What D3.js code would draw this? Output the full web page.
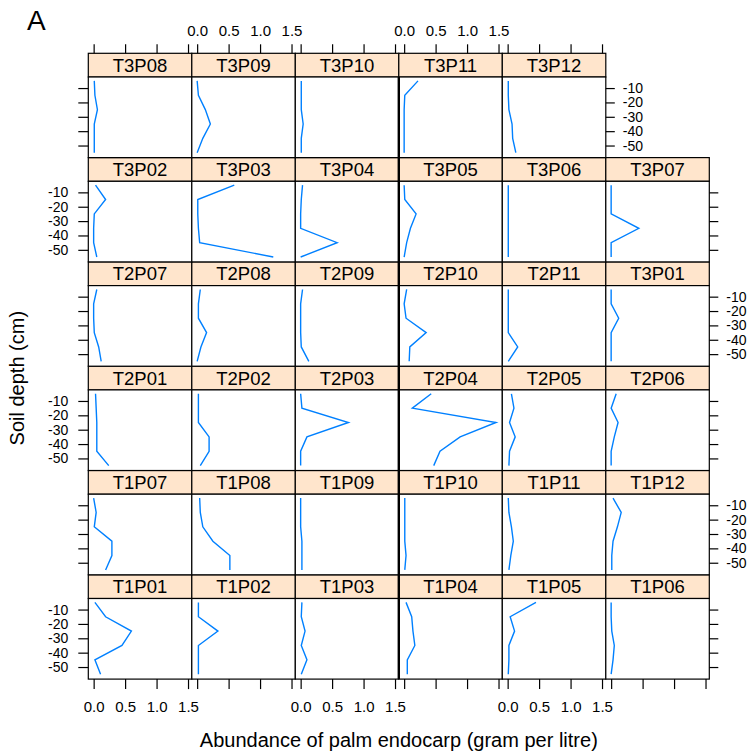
<!DOCTYPE html>
<html>
<head>
<meta charset="utf-8">
<script src="https://cdn.jsdelivr.net/npm/d3@7"></script>
<style>
  html, body { margin: 0; padding: 0; background: #fff; }
  svg { display: block; font-family: "Liberation Sans", Arial, sans-serif; }
</style>
</head>
<body>
<svg id="chart" width="755" height="751"></svg>
<script>
// Soil depth of each sample (cm, negative downwards)
const depths = [-5, -15, -25, -35, -45, -55];

// Plot names in lattice panel order (bottom-left first, left to right, upwards)
const plots = [
  "T1P01", "T1P02", "T1P03", "T1P04", "T1P05", "T1P06",
  "T1P07", "T1P08", "T1P09", "T1P10", "T1P11", "T1P12",
  "T2P01", "T2P02", "T2P03", "T2P04", "T2P05", "T2P06",
  "T2P07", "T2P08", "T2P09", "T2P10", "T2P11", "T3P01",
  "T3P02", "T3P03", "T3P04", "T3P05", "T3P06", "T3P07",
  "T3P08", "T3P09", "T3P10", "T3P11", "T3P12"
];

// Palm endocarp abundance (g/L) per plot, one value per depth
const transect1 = [
  [0.02, 0.19, 0.60, 0.45, 0.02, 0.11], // T1P01
  [0.02, 0.02, 0.33, 0.02, 0.02, 0.02], // T1P02
  [0.02, 0.01, 0.07, 0.01, 0.10, 0.01], // T1P03
  [0.03, 0.12, 0.14, 0.17, 0.05, 0.05], // T1P04
  [0.45, 0.04, 0.11, 0.02, 0.02, 0.01], // T1P05
  [0.00, 0.00, 0.01, 0.05, 0.03, 0.00], // T1P06
  [0.00, 0.04, 0.01, 0.29, 0.29, 0.19], // T1P07
  [0.04, 0.05, 0.09, 0.25, 0.52, 0.52], // T1P08
  [0.00, 0.00, 0.00, 0.02, 0.02, 0.02], // T1P09
  [0.01, 0.01, 0.01, 0.01, 0.03, 0.01], // T1P10
  [0.01, 0.02, 0.06, 0.09, 0.05, 0.02], // T1P11
  [0.03, 0.16, 0.10, 0.03, 0.01, 0.01]  // T1P12
];
const transect2 = [
  [0.03, 0.04, 0.05, 0.05, 0.05, 0.24], // T2P01
  [0.02, 0.02, 0.02, 0.19, 0.19, 0.05], // T2P02
  [0.00, 0.02, 0.76, 0.10, 0.00, 0.00], // T2P03
  [0.43, 0.13, 1.46, 0.89, 0.57, 0.47], // T2P04
  [0.06, 0.10, 0.03, 0.12, 0.03, 0.02], // T2P05
  [0.08, 0.00, 0.11, 0.05, 0.00, 0.00], // T2P06
  [0.05, 0.00, 0.00, 0.01, 0.08, 0.12], // T2P07
  [0.05, 0.02, 0.02, 0.15, 0.06, 0.00], // T2P08
  [0.03, 0.00, 0.00, 0.00, 0.01, 0.13], // T2P09
  [0.04, 0.00, 0.03, 0.35, 0.09, 0.08], // T2P10
  [0.01, 0.01, 0.01, 0.01, 0.16, 0.01]  // T2P11
];
const transect3 = [
  [0.00, 0.00, 0.12, 0.00, 0.00, 0.00], // T3P01
  [0.03, 0.19, 0.01, 0.00, 0.00, 0.05], // T3P02
  [0.59, 0.01, 0.01, 0.02, 0.04, 1.21], // T3P03
  [0.03, 0.01, 0.00, 0.00, 0.58, 0.00], // T3P04
  [0.00, 0.01, 0.19, 0.10, 0.04, 0.00], // T3P05
  [0.01, 0.01, 0.01, 0.01, 0.01, 0.01], // T3P06
  [0.00, 0.00, 0.00, 0.44, 0.00, 0.00], // T3P07
  [0.01, 0.02, 0.06, 0.01, 0.01, 0.01], // T3P08
  [0.00, 0.02, 0.13, 0.21, 0.09, 0.00], // T3P09
  [0.01, 0.01, 0.01, 0.04, 0.01, 0.01], // T3P10
  [0.22, 0.01, 0.00, 0.00, 0.00, 0.00], // T3P11
  [0.01, 0.01, 0.02, 0.07, 0.08, 0.13]  // T3P12
];

const xTicks = [0, 0.5, 1.0, 1.5];
const yTicks = [-10, -20, -30, -40, -50];

const panelLabel = "A";
const xTitle = "Abundance of palm endocarp (gram per litre)";
const yTitle = "Soil depth (cm)";

// ---- layout ----
const nCols = 6, nRows = 6;
const gridLeft = 88.3, gridTop = 53.3;
const colW = 103.5, rowH = 104.3, stripH = 23.7;
const panelH = rowH - stripH;

const lineColor = "#0080ff";
const stripFill = "#ffe5cc";

const svg = d3.select("#chart");

const x = d3.scaleLinear().domain([-0.085, 1.56]).range([0, colW]);
const y = d3.scaleLinear().domain([-2.3, -58.4]).range([0, panelH]);

const values = transect1.concat(transect2, transect3);
const panels = plots.map((name, i) => ({
  name,
  col: i % nCols,
  row: nRows - 1 - Math.floor(i / nCols),   // row 0 is the top row
  values: values[i]
}));

const line = d3.line()
  .x(d => x(d.v))
  .y(d => y(d.d));

const fmtX = d3.format(".1f");
const fmtY = d => String(d);   // plain hyphen-minus, as R prints it

const g = svg.selectAll("g.panel")
  .data(panels)
  .join("g")
  .attr("class", "panel")
  .attr("transform", d => `translate(${gridLeft + d.col * colW},${gridTop + d.row * rowH})`);

// strip
g.append("rect")
  .attr("x", 0).attr("y", 0)
  .attr("width", colW).attr("height", stripH)
  .attr("fill", stripFill)
  .attr("stroke", "#000").attr("stroke-width", 1.2);

g.append("text")
  .attr("x", colW / 2).attr("y", stripH / 2 + 6.5)
  .attr("text-anchor", "middle")
  .attr("font-size", 18.5)
  .attr("fill", "#000")
  .text(d => d.name);

// panel area
const body = g.append("g").attr("transform", `translate(0,${stripH})`);
body.append("rect")
  .attr("width", colW).attr("height", panelH)
  .attr("fill", "#fff")
  .attr("stroke", "#000").attr("stroke-width", 1.2);

body.append("path")
  .attr("fill", "none")
  .attr("stroke", lineColor)
  .attr("stroke-width", 1.4)
  .attr("d", d => line(depths.map((dep, k) => ({ d: dep, v: d.values[k] }))));

// heavier rule between the third and fourth columns
svg.append("line")
  .attr("x1", gridLeft + 3 * colW).attr("x2", gridLeft + 3 * colW)
  .attr("y1", gridTop + stripH).attr("y2", gridTop + nRows * rowH)
  .attr("stroke", "#000").attr("stroke-width", 2.4);

// ---- axes ----
function styleAxis(sel, size) {
  sel.select(".domain").remove();
  sel.selectAll(".tick line").attr("stroke", "#000").attr("stroke-width", 1.2);
  sel.selectAll(".tick text").attr("fill", "#000").attr("font-size", size)
    .attr("font-family", "'Liberation Sans', Arial, sans-serif");
}

// top axis above the top row (5 panels)
for (let c = 0; c < 5; c++) {
  const ax = d3.axisTop(x).tickValues(xTicks).tickSize(9).tickPadding(8)
    .tickFormat(c % 2 === 1 ? fmtX : () => "");
  const a = svg.append("g")
    .attr("transform", `translate(${gridLeft + c * colW},${gridTop})`)
    .call(ax);
  styleAxis(a, 15);
}

// bottom axis below the bottom row
for (let c = 0; c < nCols; c++) {
  const ax = d3.axisBottom(x).tickValues(xTicks).tickSize(10).tickPadding(12)
    .tickFormat(c % 2 === 0 ? fmtX : () => "");
  const a = svg.append("g")
    .attr("transform", `translate(${gridLeft + c * colW},${gridTop + nRows * rowH})`)
    .call(ax);
  styleAxis(a, 15);
}

// left and right axes, labels alternating between sides
for (let r = 0; r < nRows; r++) {
  const py = gridTop + r * rowH + stripH;
  const labelLeft = (r % 2 === 1);
  const axL = d3.axisLeft(y).tickValues(yTicks).tickSize(10).tickPadding(10)
    .tickFormat(labelLeft ? fmtY : () => "");
  const aL = svg.append("g").attr("transform", `translate(${gridLeft},${py})`).call(axL);
  styleAxis(aL, 14);

  const rightEdge = r === 0 ? gridLeft + 5 * colW : gridLeft + nCols * colW;
  const axR = d3.axisRight(y).tickValues(yTicks).tickSize(9).tickPadding(8)
    .tickFormat(!labelLeft ? fmtY : () => "");
  const aR = svg.append("g").attr("transform", `translate(${rightEdge},${py})`).call(axR);
  styleAxis(aR, 14);
}

// ---- titles ----
svg.append("text")
  .attr("x", 27).attr("y", 30)
  .attr("font-size", 28)
  .attr("fill", "#000")
  .text(panelLabel);

svg.append("text")
  .attr("x", gridLeft + 3 * colW).attr("y", 747)
  .attr("text-anchor", "middle")
  .attr("font-size", 20)
  .attr("fill", "#000")
  .text(xTitle);

svg.append("text")
  .attr("transform", `translate(24,${gridTop + 3 * rowH + 12}) rotate(-90)`)
  .attr("text-anchor", "middle")
  .attr("font-size", 20)
  .attr("fill", "#000")
  .text(yTitle);
</script>
</body>
</html>
